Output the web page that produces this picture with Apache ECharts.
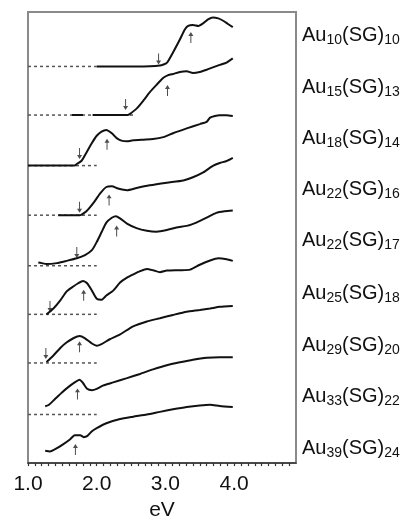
<!DOCTYPE html>
<html>
<head>
<meta charset="utf-8">
<script src="https://cdn.jsdelivr.net/npm/echarts@6/dist/echarts.min.js"></script>
<style>
  html, body { margin: 0; padding: 0; background: #fff; }
  #chart { width: 405px; height: 526px; }
</style>
</head>
<body>
<div id="chart"></div>
<script>
// cluster names: [Au count, SG count]
const clusters = [['10','10'],['15','13'],['18','14'],['22','16'],['22','17'],['25','18'],['29','20'],['33','22'],['39','24']]

// vertical offset of each trace (arb. units)
const offsets = [408, 358, 306, 255, 203, 153, 103, 50, 0]

// spectra: [eV, absorbance above own baseline]
const au10 = [[2.0,0],[2.58,0],[2.92,1],[3.02,3.7],[3.11,14.4],[3.21,27.7],[3.28,37.7],[3.33,41.7],[3.40,42.7],[3.48,41.7],[3.55,44.4],[3.62,48.4],[3.69,50.4],[3.77,49.4],[3.84,47],[3.91,43.7],[3.98,40.4]]
const au15 = [[1.64,0],[1.80,0],[1.87,null],[1.94,0],[2.45,0],[2.48,1],[2.58,6.6],[2.68,15],[2.77,23.3],[2.87,31],[2.97,38.3],[3.04,41],[3.11,42.3],[3.21,44.3],[3.31,45],[3.40,43.3],[3.50,44.3],[3.60,46.6],[3.69,49],[3.79,51.6],[3.89,54],[3.98,58.3]]
const au18 = [[1.0,0],[1.68,0],[1.71,1.7],[1.78,5],[1.85,13.3],[1.93,23.3],[2.0,30.7],[2.07,35],[2.14,36.7],[2.22,33.3],[2.29,28.3],[2.36,25.7],[2.44,25],[2.53,26],[2.68,26.7],[2.82,27.3],[2.97,29.3],[3.11,33.3],[3.31,38.3],[3.50,42.7],[3.60,45],[3.65,49.3],[3.72,51],[3.79,51.7],[3.89,51.7],[3.98,51]]
const au22a = [[1.44,0],[1.75,0],[1.78,0.7],[1.85,4],[1.95,12.4],[2.05,22.4],[2.14,29],[2.22,29.7],[2.31,27.4],[2.44,25.7],[2.58,28],[2.77,30.7],[3.02,33.4],[3.26,35.7],[3.40,39],[3.55,44],[3.69,50.7],[3.79,53.7],[3.89,55.7],[3.98,59]]
const au22b = [[1.15,3.4],[1.20,2.7],[1.27,1.7],[1.42,2.7],[1.56,5],[1.71,7.7],[1.83,11],[1.93,16],[2.0,24.4],[2.07,34.4],[2.14,44.4],[2.22,49.4],[2.28,51],[2.34,48.7],[2.44,43.4],[2.58,38.7],[2.73,36],[2.87,35],[3.02,36.7],[3.16,39.4],[3.31,41],[3.45,44.4],[3.60,49.4],[3.74,54.4],[3.86,56],[3.98,56.7]]
const au25 = [[1.27,0],[1.37,6],[1.47,14.4],[1.56,23.4],[1.64,27.7],[1.73,32],[1.80,34.4],[1.86,32],[1.93,24.4],[2.0,16],[2.07,15],[2.14,19.4],[2.24,24.4],[2.34,32.7],[2.44,37.7],[2.53,41],[2.63,44.4],[2.73,46.7],[2.82,45.4],[2.92,43.4],[3.02,45],[3.21,45.4],[3.36,46],[3.50,51],[3.65,55.4],[3.77,57.7],[3.89,56.7],[3.98,55]]
const au29 = [[1.27,1],[1.37,7.7],[1.47,15.4],[1.56,21],[1.66,25.4],[1.75,27.7],[1.83,25.4],[1.93,20],[2.0,17.7],[2.07,19.4],[2.19,24.4],[2.34,29.4],[2.53,37.7],[2.73,42.7],[2.92,46],[3.11,49.4],[3.31,52.7],[3.50,54.4],[3.65,56],[3.79,57.7],[3.98,58.7]]
const au33 = [[1.25,8.4],[1.30,9.7],[1.39,15.7],[1.49,22.4],[1.59,28.4],[1.68,33],[1.75,35.7],[1.80,32.4],[1.86,26.4],[1.93,25],[2.0,26.4],[2.09,29.7],[2.24,33],[2.44,37.4],[2.63,41.7],[2.82,46.4],[3.02,50.7],[3.21,53.7],[3.40,56.4],[3.60,58.4],[3.79,59],[3.98,59]]
const au39 = [[1.25,12.7],[1.32,12],[1.42,15.3],[1.51,19.3],[1.61,24.3],[1.68,28.7],[1.76,28.7],[1.81,26.7],[1.86,27.7],[1.93,32.7],[2.0,36],[2.14,41],[2.34,45.3],[2.53,47.7],[2.73,50],[2.92,52.7],[3.11,55.3],[3.31,57.7],[3.50,59.3],[3.65,60],[3.79,58.7],[3.98,57.7]]
const spectra = [au10, au15, au18, au22a, au22b, au25, au29, au33, au39]

// dashed baseline end (eV), null = no baseline
const baseEnd = [2.0, 2.53, 2.0, 2.0, 2.0, 2.0, 2.0, 2.0, null]

// onset (down) and peak (up) arrows: [eV, height above baseline]
const onsetArrows = [[2.90,7.7],[2.42,10.8],[1.75,12.5],[1.75,8.2],[1.71,13.7],[1.32,8.2],[1.26,9.7],null,null]
const peakArrows = [[3.37,29.7],[3.03,25.3],[2.15,22],[2.18,15.7],[2.29,35.7],[1.81,19.7],[1.75,16.7],[1.72,21.2],[1.69,14]]

const labelY = [36, 88, 139, 190, 241, 294, 346, 397, 449]

const arrowPath = 'path://M3,0 L6,5 L3.6,5 L3.6,14 L2.4,14 L2.4,5 L0,5 Z'

let series = []
spectra.forEach((sp, i) => {
    series.push({
        type: 'line',
        data: sp.map(p => [p[0], p[1] == null ? null : p[1] + offsets[i]]),
        showSymbol: false,
        smooth: 0.2,
        connectNulls: false,
        lineStyle: { color: '#111', width: 2 },
        z: 3
    })
    if (baseEnd[i] != null) {
        series.push({
            type: 'line',
            data: [[1.0, offsets[i]], [baseEnd[i], offsets[i]]],
            showSymbol: false,
            lineStyle: { color: '#555', width: 1.5, type: [3, 3] },
            z: 2
        })
    }
})

function arrowData (list) {
    let out = []
    list.forEach((a, i) => {
        if (a) out.push([a[0], a[1] + offsets[i]])
    })
    return out
}

series.push({
    type: 'scatter',
    data: arrowData(peakArrows),
    symbol: arrowPath,
    symbolSize: [5, 11],
    itemStyle: { color: '#222' },
    z: 4
})
series.push({
    type: 'scatter',
    data: arrowData(onsetArrows),
    symbol: arrowPath,
    symbolSize: [5, 11],
    symbolRotate: 180,
    itemStyle: { color: '#222' },
    z: 4
})

const font = '"Liberation Sans", Arial, Helvetica, sans-serif'

let graphics = clusters.map((c, i) => ({
    type: 'text',
    x: 302,
    y: labelY[i] - 11,
    style: {
        text: '{m|Au}{s|' + c[0] + '}{m|(SG)}{s|' + c[1] + '}',
        verticalAlign: 'top',
        fill: '#111',
        rich: {
            m: { fontSize: 20, lineHeight: 22, verticalAlign: 'top', fontFamily: font, fill: '#111' },
            s: { fontSize: 14, lineHeight: 14, verticalAlign: 'bottom', padding: [18, 0, 0, 0], fontFamily: font, fill: '#111' }
        }
    }
}))

let myChart = echarts.init(document.getElementById('chart'))
myChart.setOption({
    animation: false,
    backgroundColor: '#fff',
    grid: {
        left: 28, top: 12, width: 268, height: 464,
        show: true, borderColor: '#8a8a8a', borderWidth: 2, backgroundColor: 'transparent'
    },
    xAxis: {
        type: 'value',
        min: 1.0,
        max: 4.9,
        interval: 0.1,
        name: 'eV',
        nameLocation: 'middle',
        nameGap: 35,
        nameTextStyle: { fontSize: 21, color: '#111', fontFamily: font },
        axisLine: { lineStyle: { color: '#333', width: 1.5 } },
        axisTick: { length: 3, lineStyle: { color: '#333', width: 1.2 } },
        axisLabel: {
            fontSize: 21, color: '#111', fontFamily: font, margin: 11,
            showMaxLabel: false,
            formatter: v => Math.abs(v - Math.round(v)) < 1e-6 ? v.toFixed(1) : ''
        },
        splitLine: { show: false }
    },
    yAxis: {
        type: 'value',
        min: 0,
        max: 464,
        show: false
    },
    graphic: graphics,
    series: series
})
</script>
</body>
</html>
